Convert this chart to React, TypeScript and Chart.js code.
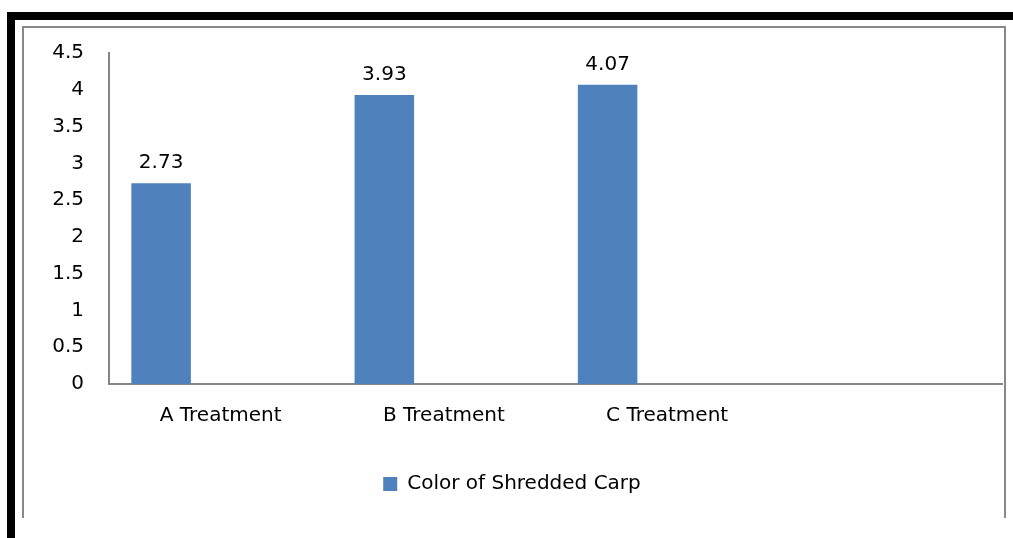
import React, { useEffect, useRef } from "react";
import { Chart, registerables } from "chart.js";

Chart.register(...registerables);

const categories = ["A Treatment", "B Treatment", "C Treatment", ""];
const seriesName = "Color of Shredded Carp";
const seriesValues = [2.73, 3.93, 4.07, null];
const emptySeries = [null, null, null, null];
const yTicks = [0, 0.5, 1, 1.5, 2, 2.5, 3, 3.5, 4, 4.5];

const FONT = "'DejaVu Sans', Verdana, sans-serif";
const BAR_COLOR = "#4F81BD";

const valueLabels = {
  id: "valueLabels",
  afterDatasetsDraw(chart: any) {
    const ctx = chart.ctx;
    const meta = chart.getDatasetMeta(0);
    ctx.save();
    ctx.font = `20px ${FONT}`;
    ctx.fillStyle = "#000";
    ctx.textAlign = "center";
    ctx.textBaseline = "alphabetic";
    meta.data.forEach((bar: any, i: number) => {
      const v = seriesValues[i];
      if (v === null || v === undefined) return;
      ctx.fillText(v.toFixed(2), bar.x, bar.y - 15);
    });
    ctx.restore();
  },
};

export default function App() {
  const ref = useRef<HTMLCanvasElement>(null);
  useEffect(() => {
    if (!ref.current) return;
    const chart = new Chart(ref.current, {
      type: "bar",
      data: {
        labels: categories,
        datasets: [
          { label: seriesName, data: seriesValues, backgroundColor: BAR_COLOR, barPercentage: 1, categoryPercentage: 0.8 },
          { label: "s2", data: emptySeries, backgroundColor: "#C0504D", barPercentage: 1, categoryPercentage: 0.8 },
          { label: "s3", data: emptySeries, backgroundColor: "#9BBB59", barPercentage: 1, categoryPercentage: 0.8 },
        ],
      },
      options: {
        animation: false,
        responsive: false,
        layout: { padding: { left: 22, right: 11, top: 53, bottom: 34 } },
        plugins: {
          legend: {
            position: "bottom",
            labels: {
              filter: (item: any) => item.datasetIndex === 0,
              boxWidth: 14,
              boxHeight: 14,
              color: "#000",
              font: { family: FONT, size: 20 },
              padding: 10,
            },
          },
          tooltip: { enabled: false },
        },
        scales: {
          x: {
            afterFit: (scale: any) => {
              scale.height += 16;
            },
            grid: { display: false, drawTicks: false },
            border: { display: true, color: "#868686", width: 2 },
            ticks: { color: "#000", font: { family: FONT, size: 20 }, padding: 20, maxRotation: 0, autoSkip: false },
          },
          y: {
            min: 0,
            max: 4.5,
            afterBuildTicks: (scale: any) => {
              scale.ticks = yTicks.map((v) => ({ value: v }));
            },
            afterFit: (scale: any) => {
              scale.width = 87;
            },
            grid: { display: false, drawTicks: false },
            border: { display: true, color: "#868686", width: 2 },
            ticks: {
              color: "#000",
              font: { family: FONT, size: 20 },
              padding: 25,
              callback: (v: any) => String(v),
            },
          },
        },
      },
      plugins: [valueLabels],
    });
    return () => chart.destroy();
  }, []);

  return (
    <div style={{ position: "fixed", left: 0, top: 0, width: 1013, height: 538, background: "#fff" }}>
      <div style={{ position: "absolute", left: 7, top: 12, width: 1006, height: 8, background: "#000" }} />
      <div style={{ position: "absolute", left: 7, top: 12, width: 8, height: 526, background: "#000" }} />
      <div style={{ position: "absolute", left: 22, top: 26, width: 984, height: 2, background: "#888" }} />
      <div style={{ position: "absolute", left: 22, top: 26, width: 2, height: 492, background: "#888" }} />
      <div style={{ position: "absolute", left: 1004, top: 26, width: 2, height: 492, background: "#888" }} />
      <canvas ref={ref} width={1013} height={538} style={{ position: "absolute", left: 0, top: 0 }} />
    </div>
  );
}
